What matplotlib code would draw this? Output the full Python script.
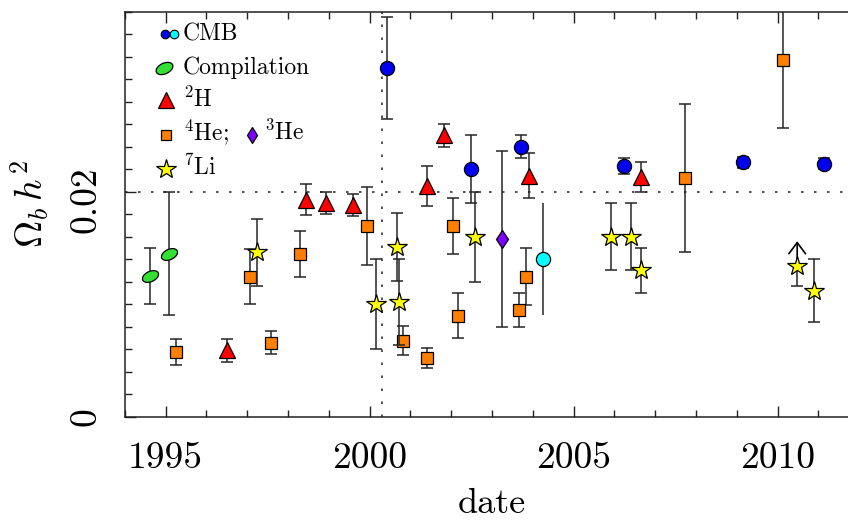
import numpy as np
import matplotlib
matplotlib.use('Agg')
import matplotlib.pyplot as plt
from matplotlib.ticker import MultipleLocator, FixedLocator, FixedFormatter
from matplotlib.path import Path
from matplotlib.transforms import Affine2D, ScaledTranslation

plt.rcParams['font.family'] = 'serif'
plt.rcParams['font.serif'] = ['cmr10', 'DejaVu Serif']
plt.rcParams['mathtext.fontset'] = 'cm'
plt.rcParams['axes.unicode_minus'] = False

# ---------------- data ----------------
cmb_x = [2000.42, 2002.49, 2003.71, 2006.24, 2009.16, 2011.14]
cmb_y = [0.0310, 0.0220, 0.0240, 0.0223, 0.0226, 0.0225]
cmb_err = [0.0045, 0.0030, 0.0010, 0.0007, 0.0005, 0.0005]

cmb2_x = [2004.24]
cmb2_y = [0.0140]
cmb2_err = [0.0050]

comp_x = [1994.62, 1995.09]
comp_y = [0.0125, 0.0145]
comp_err = [0.0025, 0.0055]

h2_x = [1996.50, 1998.43, 1998.93, 1999.59, 2001.41, 2001.83, 2003.91, 2006.65]
h2_y = [0.0059, 0.0193, 0.0190, 0.0188, 0.0205, 0.0250, 0.0214, 0.0213]
h2_err = [0.0010, 0.0014, 0.0010, 0.0010, 0.0018, 0.0010, 0.0020, 0.0013]

he4_x = [1995.25, 1997.08, 1997.58, 1998.30, 1999.93, 2000.83, 2001.41,
         2002.04, 2002.16, 2003.67, 2003.83, 2007.74, 2010.14]
he4_y = [0.00575, 0.01245, 0.00658, 0.01446, 0.01695, 0.00676, 0.00519,
         0.01698, 0.00898, 0.00948, 0.01244, 0.0212, 0.0317]
he4_err = [0.00115, 0.00245, 0.0010, 0.00203, 0.00348, 0.00129, 0.00089,
           0.0025, 0.0020, 0.0015, 0.00252, 0.0066, 0.0060]

he3_x = [2003.24]
he3_y = [0.0158]
he3_err = [0.0078]

li_x = [1997.25, 2000.16, 2000.66, 2000.73, 2002.58, 2005.91, 2006.40, 2006.65, 2010.90]
li_y = [0.0146, 0.0100, 0.0151, 0.0102, 0.0160, 0.0160, 0.0160, 0.0130, 0.0112]
li_err = [0.0030, 0.0040, 0.0030, 0.0038, 0.0040, 0.0030, 0.0030, 0.0020, 0.0028]

lilim_x = [2010.48]
lilim_y = [0.0134]
lilim_lo = [0.0018]
lilim_top = [0.0156]

ref_y = 0.02
ref_x = 2000.30

xticks = [1995, 2000, 2005, 2010]
xticklabels = ['1995', '2000', '2005', '2010']
yticks = [0.0, 0.02]
yticklabels = ['0', '0.02']

# ---------------- figure ----------------
W, H = 848, 520
fig = plt.figure(figsize=(W / 100, H / 100), dpi=100)
ax = fig.add_axes([124.8 / W, 103.3 / H, 734.4 / W, 405.0 / H])
ax.set_xlim(1994, 2012)
ax.set_ylim(0, 0.036)

ecol = '#262626'
ell = Affine2D().scale(1, 0.6).rotate_deg(25).transform_path(Path.unit_circle())


def eb(x, y, err, marker, ms, fc, capsize=4, z=3, mew=0.9):
    ax.errorbar(x, y, yerr=err, fmt='none', ecolor=ecol, elinewidth=1.1,
                capsize=capsize, capthick=1.1, zorder=z)
    ax.plot(x, y, ls='none', marker=marker, ms=ms, mfc=fc, mec='black',
            mew=mew, zorder=z + 0.5)


dots = (0, (1.5, 6.3))
ax.axhline(ref_y, ls=dots, lw=1.2, color='#333333', zorder=1)
ax.axvline(ref_x, ls=dots, lw=1.2, color='#333333', zorder=1)

eb(comp_x, comp_y, comp_err, ell, 12, '#33e033', z=3)
eb(he4_x, he4_y, he4_err, 's', 9.0, '#ff8000', z=4)
eb(h2_x, h2_y, h2_err, '^', 11.0, '#ff0000', z=5)
eb(li_x, li_y, li_err, '*', 14.5, '#ffff00', z=6)
ax.errorbar(lilim_x, lilim_y, yerr=[lilim_lo, [0]], fmt='none', ecolor=ecol,
            elinewidth=1.1, capsize=4, capthick=1.1, zorder=6)
ax.annotate('', xy=(lilim_x[0], lilim_top[0]), xytext=(lilim_x[0], lilim_y[0]),
            arrowprops=dict(arrowstyle='->,head_length=0.4,head_width=0.3',
                            lw=1.2, color='black', shrinkA=0, shrinkB=0,
                            mutation_scale=20), zorder=6)
ax.plot(lilim_x, lilim_y, ls='none', marker='*', ms=14.5, mfc='#ffff00',
        mec='black', mew=0.9, zorder=6.6)
eb(he3_x, he3_y, he3_err, 'd', 9.4, '#7f00ff', z=7)
eb(cmb_x, cmb_y, cmb_err, 'o', 10.2, '#0000ee', z=8)
eb(cmb2_x, cmb2_y, cmb2_err, 'o', 10.2, '#00ffff', capsize=0, z=8)

# ---------------- axes styling ----------------
ax.xaxis.set_major_locator(FixedLocator(xticks))
ax.xaxis.set_major_formatter(FixedFormatter(xticklabels))
ax.xaxis.set_minor_locator(MultipleLocator(1))
ax.yaxis.set_major_locator(FixedLocator(yticks))
ax.yaxis.set_major_formatter(FixedFormatter(yticklabels))
ax.yaxis.set_minor_locator(MultipleLocator(0.002))
ax.tick_params(which='both', direction='in', top=True, right=True,
               width=1.0, color='#222222')
ax.tick_params(which='major', length=8)
ax.tick_params(which='minor', length=5)
ax.tick_params(axis='x', labelsize=27, pad=18)
ax.tick_params(axis='y', labelsize=27, pad=16, labelrotation=90)
fig.canvas.draw()
ylabs = ax.get_yticklabels()
for lab in ylabs:
    lab.set_va('center')
# the 0.02 label sits a little below its tick in the reference
ylabs[1].set_transform(ylabs[1].get_transform() +
                       ScaledTranslation(0, -8 / 100, fig.dpi_scale_trans))
for s in ax.spines.values():
    s.set_linewidth(1.1)
    s.set_color('#222222')

fig.text(30 / W, 1 - 204 / H, r'$\Omega_b\,h^2$', rotation=90, fontsize=27,
         ha='center', va='center')
fig.text(492 / W, 1 - 513 / H, 'date', fontsize=26, ha='center', va='baseline')

# ---------------- legend ----------------
def fx(px):
    return px / W


def fy(py):
    return 1 - py / H


def key(px, py, marker, ms, fc, mew=0.9):
    ax.plot([fx(px)], [fy(py)], transform=fig.transFigure, clip_on=False,
            ls='none', marker=marker, ms=ms, mfc=fc, mec='black', mew=mew,
            zorder=10)


lfs = 17
key(165, 34, 'o', 6.2, '#0000ee', 0.8)
key(173.5, 34, 'o', 6.2, '#00ffff', 0.8)
fig.text(fx(183), fy(40.7), 'CMB', fontsize=lfs, va='baseline')
key(163.5, 68.3, ell, 12.5, '#33e033')
fig.text(fx(183), fy(74), 'Compilation', fontsize=lfs, va='baseline')
key(166, 100, '^', 11.5, '#ff0000')
fig.text(fx(183), fy(107.3), r'$^{2}$H', fontsize=lfs, va='baseline')
key(166, 135, 's', 7.5, '#ff8000')
fig.text(fx(183), fy(140), r'$^{4}$He;', fontsize=lfs, va='baseline')
key(251.7, 135, 'd', 8.5, '#7f00ff')
fig.text(fx(264), fy(140), r'$^{3}$He', fontsize=lfs, va='baseline')
key(166, 169.3, '*', 14.5, '#ffff00')
fig.text(fx(183), fy(175), r'$^{7}$Li', fontsize=lfs, va='baseline')

fig.savefig('out.png', dpi=100)
